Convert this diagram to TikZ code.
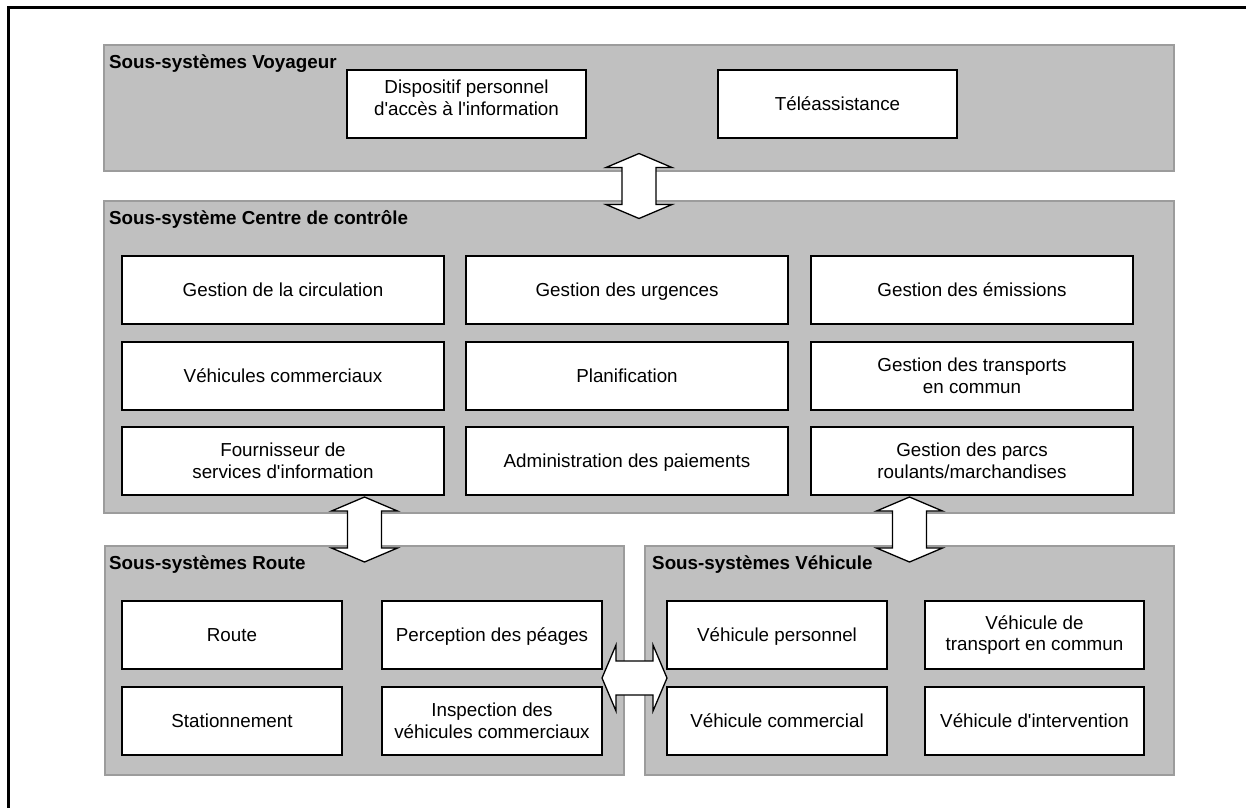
\documentclass[tikz,border=0pt]{standalone}
\usepackage{fontspec}
\setmainfont{Liberation Sans}[Ligatures=TeXOff]
\usetikzlibrary{calc}
\definecolor{panelgray}{HTML}{C0C0C0}
\definecolor{paneledge}{HTML}{9C9C9C}
\tikzset{
  panel/.style={draw=paneledge, fill=panelgray, line width=1.2pt, anchor=north west, inner sep=0pt, outer sep=0pt},
  ptitle/.style={anchor=base west, font=\fontsize{18.8}{22}\selectfont\bfseries, inner sep=0pt},
  box/.style={draw=black, fill=white, line width=1.6pt, anchor=north west, align=center,
              font=\fontsize{18.8}{21.6}\selectfont, inner sep=0pt, outer sep=0pt,
              text height=14pt, text depth=1pt},
  two/.style={text height=, text depth=},
  boxtext/.style={align=center, font=\fontsize{18.8}{21.6}\selectfont, inner sep=0pt},
  blockarrow/.style={draw=black, fill=white, line width=1.3pt, line join=miter},
  frame/.style={line width=3pt},
  vdarrow/.pic={
    \draw[blockarrow] (0,-32.5) -- (33,-18.5) -- (17,-18.5) -- (17,18.5) -- (33,18.5)
      -- (0,32.5) -- (-33,18.5) -- (-17,18.5) -- (-17,-18.5) -- (-33,-18.5) -- cycle;
  }
}
\begin{document}
\begin{tikzpicture}[x=1pt,y=-1pt]
\useasboundingbox (0,0) rectangle (1246,807);
\clip (0,0) rectangle (1246,807);

% outer frame
\draw[frame] (8,820) -- (8,7.5) -- (1260,7.5);

% ---------- traveller subsystems ----------
\node[panel, minimum width=1070, minimum height=126] (voy) at (104,45) {};
\node[ptitle] (voyT) at ($(voy.north west)+(5,23)$) {Sous-systèmes Voyageur};
\node[box, minimum width=239, minimum height=68] (dpi) at (347,70) {};
\node[boxtext] (dpiT) at ($(dpi.center)+(0,-6)$) {Dispositif personnel\\d'accès à l'information};
\node[box, minimum width=239, minimum height=68] (tel) at (718,70) {Téléassistance};

% ---------- control centre subsystem ----------
\node[panel, minimum width=1070, minimum height=312] (ctl) at (104,201) {};
\node[ptitle] (ctlT) at ($(ctl.north west)+(5,23)$) {Sous-système Centre de contrôle};

\node[box, minimum width=322, minimum height=68] (circ) at (122,256) {Gestion de la circulation};
\node[box, minimum width=322, minimum height=68] (urg)  at (466,256) {Gestion des urgences};
\node[box, minimum width=322, minimum height=68] (emi)  at (811,256) {Gestion des émissions};

\node[box, minimum width=322, minimum height=68] (vcm)  at (122,342) {Véhicules commerciaux};
\node[box, minimum width=322, minimum height=68] (plan) at (466,342) {Planification};
\node[box, two, minimum width=322, minimum height=68] (gtc)  at (811,342) {Gestion des transports\\en commun};

\node[box, two, minimum width=322, minimum height=68] (fsi)  at (122,427) {Fournisseur de\\services d'information};
\node[box, minimum width=322, minimum height=68] (adp)  at (466,427) {Administration des paiements};
\node[box, two, minimum width=322, minimum height=68] (gpr)  at (811,427) {Gestion des parcs\\roulants/marchandises};

% ---------- road subsystems ----------
\node[panel, minimum width=519, minimum height=229] (route) at (105,546) {};
\node[ptitle] (routeT) at ($(route.north west)+(4,23)$) {Sous-systèmes Route};
\node[box, minimum width=220, minimum height=68] (rte)  at (122,601) {Route};
\node[box, minimum width=220, minimum height=68] (perc) at (382,601) {Perception des péages};
\node[box, minimum width=220, minimum height=68] (stat) at (122,687) {Stationnement};
\node[box, two, minimum width=220, minimum height=68] (insp) at (382,687) {Inspection des\\véhicules commerciaux};

% ---------- vehicle subsystems ----------
\node[panel, minimum width=529, minimum height=229] (veh) at (645,546) {};
\node[ptitle] (vehT) at ($(veh.north west)+(7,23)$) {Sous-systèmes Véhicule};
\node[box, minimum width=220, minimum height=68] (vper) at (667,601) {Véhicule personnel};
\node[box, two, minimum width=219, minimum height=68] (vtc)  at (925,601) {Véhicule de\\transport en commun};
\node[box, minimum width=220, minimum height=68] (vcom) at (667,687) {Véhicule commercial};
\node[box, minimum width=219, minimum height=68] (vint) at (925,687) {Véhicule d'intervention};

% ---------- two-way exchanges between subsystems ----------
\coordinate (xVC) at ($(voy.south)!0.5!(ctl.north)$);
\pic at (xVC) {vdarrow};
\coordinate (xCR) at ($(ctl.south -| route.north)!0.5!(route.north)$);
\pic at (xCR) {vdarrow};
\coordinate (xCV) at ($(ctl.south -| veh.north)!0.5!(veh.north)$);
\pic at (xCV) {vdarrow};
\coordinate (xRV) at ($(perc.south east)!0.5!(vcom.north west)$);
\pic[rotate=90] at (xRV) {vdarrow};
\end{tikzpicture}
\end{document}
